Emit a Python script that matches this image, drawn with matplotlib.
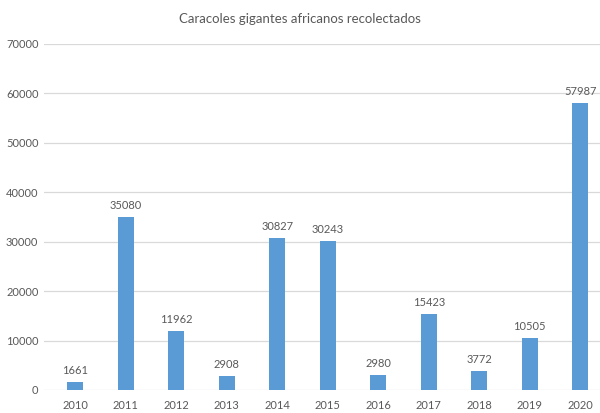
import matplotlib.pyplot as plt

years = ['2010', '2011', '2012', '2013', '2014', '2015', '2016', '2017', '2018', '2019', '2020']
caracoles = [1661, 35080, 11962, 2908, 30827, 30243, 2980, 15423, 3772, 10505, 57987]

plt.rcParams['font.family'] = ['Lato', 'DejaVu Sans']
gris = '#595959'

fig = plt.figure(figsize=(6, 4.13), dpi=100)
ax = fig.add_axes([44/600, 1 - 390/413, 556/600, 346/413])

x = range(len(years))
barras = ax.bar(x, caracoles, width=0.32, color='#5B9BD5', zorder=3)
for b, v in zip(barras, caracoles):
    ax.text(b.get_x() + b.get_width()/2, v + 1200, str(v), ha='center', va='bottom',
            fontsize=8, color=gris)

ax.set_xlim(-0.62, 10.39)
ax.set_ylim(0, 70000)
ax.set_yticks(range(0, 70001, 10000))
ax.set_xticks(list(x))
ax.set_xticklabels(years)
ax.yaxis.grid(True, color='#D9D9D9', linewidth=0.9, zorder=0)
for s in ax.spines.values():
    s.set_visible(False)
ax.tick_params(length=0, labelsize=8, colors=gris)
ax.tick_params(axis='y', pad=4)
ax.tick_params(axis='x', pad=7)
fig.text(0.5, 1 - 19/413, 'Caracoles gigantes africanos recolectados', ha='center', va='center',
         fontsize=9.5, color=gris)

plt.savefig('out.png', dpi=100)
